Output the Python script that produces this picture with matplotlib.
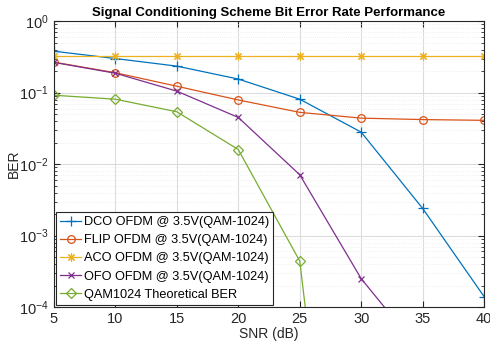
import numpy as np
import matplotlib.pyplot as plt
from matplotlib.ticker import LogLocator, NullFormatter

snr = [5, 10, 15, 20, 25, 30, 35, 40]
ber_dco = [0.38, 0.30, 0.235, 0.155, 0.081, 0.028, 0.0024, 1.4e-4]
ber_flip = [0.267, 0.19, 0.123, 0.079, 0.053, 0.044, 0.042, 0.041]
ber_aco = [0.33, 0.33, 0.33, 0.33, 0.33, 0.33, 0.33, 0.33]
ber_ofo = [0.265, 0.187, 0.105, 0.045, 0.0071, 2.5e-4, 2.2e-5, 2e-6]
ber_qam = [0.092, 0.081, 0.054, 0.016, 4.4e-4, 3e-11, 1e-20, 1e-30]

labels = ["DCO OFDM @ 3.5V(QAM-1024)", "FLIP OFDM @ 3.5V(QAM-1024)",
          "ACO OFDM @ 3.5V(QAM-1024)", "OFO OFDM @ 3.5V(QAM-1024)",
          "QAM1024 Theoretical BER"]

plt.rcParams['font.family'] = ['Liberation Sans', 'DejaVu Sans']

fig = plt.figure(figsize=(4.9, 3.47), dpi=100)
ax = fig.add_axes([0.110, 0.115, 0.878, 0.824])

# MATLAB default line colours
ax.semilogy(snr, ber_dco, '-+', color='#0072BD', lw=0.9, ms=7, mew=0.9, label=labels[0])
ax.semilogy(snr, ber_flip, '-o', color='#D95319', lw=0.9, ms=5.5, mew=0.9, mfc='none', label=labels[1])
ax.semilogy(snr, ber_aco, '-', marker=(8, 2, 0), color='#EDB120', lw=0.9, ms=6, mew=0.8, label=labels[2])
ax.semilogy(snr, ber_ofo, '-x', color='#7E2F8E', lw=0.9, ms=5, mew=0.9, label=labels[3])
ax.semilogy(snr, ber_qam, '-D', color='#77AC30', lw=0.9, ms=5, mew=0.9, mfc='none', label=labels[4])

ax.set_xlim(5, 40)
ax.set_ylim(1e-4, 1)
ax.set_xticks(range(5, 41, 5))
ax.yaxis.set_minor_locator(LogLocator(base=10, subs=np.arange(2, 10), numticks=20))
ax.yaxis.set_minor_formatter(NullFormatter())

ax.grid(True, which='major', color='#dcdcdc', lw=0.8)
ax.grid(True, which='minor', axis='y', color='#ececec', lw=0.6, ls=':')
ax.tick_params(which='both', direction='in', top=True, right=True, labelsize=10.5, colors='#262626')
ax.tick_params(which='major', length=4)
ax.tick_params(which='minor', length=2)
for s in ax.spines.values():
    s.set_color('#262626')
    s.set_linewidth(0.8)

ax.set_xlabel("SNR (dB)", fontsize=10, color='#262626', labelpad=1)
ax.set_ylabel("BER", fontsize=10, color='#262626', labelpad=-1)
ax.set_title("Signal Conditioning Scheme Bit Error Rate Performance", fontsize=9.5, fontweight='bold', pad=4)

leg = ax.legend(loc='lower left', fontsize=9.2, fancybox=False, framealpha=1,
                edgecolor='#262626', borderaxespad=0.2, handlelength=1.6,
                handletextpad=0.25, labelspacing=0.48, borderpad=0.3)
leg.get_frame().set_linewidth(0.8)

fig.savefig("out.png", dpi=100)
